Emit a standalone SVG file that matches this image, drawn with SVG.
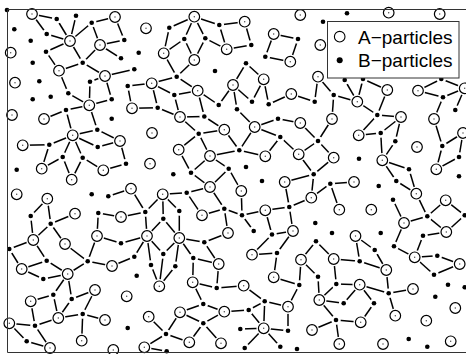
<svg xmlns="http://www.w3.org/2000/svg" xmlns:xlink="http://www.w3.org/1999/xlink" width="466" height="354" viewBox="0 0 466 354">
<style>
.bonds line{stroke:#000;stroke-width:1.5}
.frame{fill:none;stroke:#333;stroke-width:1}
.leg text{font-family:"Liberation Sans",Arial,sans-serif;font-size:19px;fill:#000}
</style>
<defs>
<g id="A"><circle r="7.2" fill="#fff"/><circle r="5.3" fill="#fff" stroke="#000" stroke-width="1.2"/><circle r="0.7" fill="#444"/></g>
<g id="B"><circle r="4.8" fill="#fff"/><circle r="2.3" fill="#000"/></g>
</defs>
<rect width="466" height="354" fill="#fff"/>
<g class="bonds">
<line x1="32" y1="14" x2="56.7" y2="19"/><line x1="32" y1="14" x2="46.7" y2="34"/><line x1="46.7" y1="34" x2="70" y2="41"/><line x1="70" y1="41" x2="56.7" y2="19"/><line x1="70" y1="41" x2="76" y2="15.7"/><line x1="70" y1="41" x2="91.7" y2="22.7"/><line x1="91.7" y1="22.7" x2="115" y2="17"/><line x1="91.7" y1="22.7" x2="100" y2="45"/><line x1="70" y1="41" x2="46" y2="51.7"/><line x1="70" y1="41" x2="82.7" y2="62.7"/><line x1="46" y1="51.7" x2="59" y2="70.7"/><line x1="59" y1="70.7" x2="82.7" y2="62.7"/><line x1="82.7" y1="62.7" x2="105" y2="76"/><line x1="100" y1="45" x2="82.7" y2="62.7"/><line x1="59" y1="70.7" x2="68.3" y2="93.3"/><line x1="90" y1="81.7" x2="105" y2="76"/><line x1="90" y1="81.7" x2="89.3" y2="105.3"/><line x1="105" y1="76" x2="111.7" y2="99.3"/><line x1="111.7" y1="99.3" x2="89.3" y2="105.3"/><line x1="68.3" y1="93.3" x2="89.3" y2="105.3"/><line x1="89.3" y1="105.3" x2="66" y2="110"/><line x1="66" y1="110" x2="44" y2="119"/>
<line x1="115" y1="17" x2="124.3" y2="40"/><line x1="124.3" y1="40" x2="100" y2="45"/><line x1="121" y1="58.3" x2="100" y2="45"/><line x1="134.3" y1="69.3" x2="105" y2="76"/>
<line x1="194.3" y1="16.7" x2="169.3" y2="27.7"/><line x1="194.3" y1="16.7" x2="219.3" y2="25"/><line x1="194.3" y1="16.7" x2="184.3" y2="39"/><line x1="194.3" y1="16.7" x2="205.3" y2="38.3"/><line x1="169.3" y1="27.7" x2="163.7" y2="53.3"/><line x1="184.3" y1="39" x2="163.7" y2="53.3"/><line x1="184.3" y1="39" x2="194.3" y2="60"/><line x1="205.3" y1="38.3" x2="194.3" y2="60"/><line x1="205.3" y1="38.3" x2="226.7" y2="49.3"/><line x1="219.3" y1="25" x2="226.7" y2="49.3"/><line x1="163.7" y1="53.3" x2="176.7" y2="76.7"/><line x1="194.3" y1="60" x2="176.7" y2="76.7"/><line x1="176.7" y1="76.7" x2="151.7" y2="83.3"/><line x1="176.7" y1="76.7" x2="197.7" y2="90.7"/><line x1="151.7" y1="83.3" x2="127.7" y2="86"/><line x1="151.7" y1="83.3" x2="174.3" y2="95"/><line x1="151.7" y1="83.3" x2="157.7" y2="107.7"/><line x1="127.7" y1="86" x2="132" y2="108.3"/><line x1="174.3" y1="95" x2="197.7" y2="90.7"/><line x1="174.3" y1="95" x2="180" y2="117"/><line x1="197.7" y1="90.7" x2="218.7" y2="105"/><line x1="197.7" y1="90.7" x2="204.3" y2="116.5"/><line x1="132" y1="108.3" x2="157.7" y2="107.7"/><line x1="157.7" y1="107.7" x2="180" y2="117"/><line x1="218.7" y1="105" x2="233" y2="85"/>
<line x1="219.3" y1="25" x2="244.7" y2="21.7"/><line x1="244.7" y1="21.7" x2="251.3" y2="45"/><line x1="251.3" y1="45" x2="226.7" y2="49.3"/><line x1="273.7" y1="34" x2="298" y2="39"/><line x1="298" y1="39" x2="290.3" y2="61.7"/><line x1="273.7" y1="34" x2="265.3" y2="56.7"/><line x1="265.3" y1="56.7" x2="290.3" y2="61.7"/><line x1="246" y1="63.3" x2="233" y2="85"/><line x1="246" y1="63.3" x2="263.7" y2="79.3"/><line x1="263.7" y1="79.3" x2="252" y2="101.7"/><line x1="263.7" y1="79.3" x2="268.7" y2="104.3"/><line x1="233" y1="85" x2="237" y2="109.3"/><line x1="233" y1="85" x2="252" y2="101.7"/><line x1="268.7" y1="104.3" x2="291.3" y2="94"/><line x1="291.3" y1="94" x2="314.7" y2="101.7"/><line x1="314.7" y1="101.7" x2="318" y2="76.7"/><line x1="318" y1="76.7" x2="333.7" y2="95"/><line x1="333.7" y1="95" x2="332" y2="119"/><line x1="333.7" y1="95" x2="357.3" y2="101.7"/><line x1="344.7" y1="80" x2="357.3" y2="101.7"/>
<line x1="363" y1="79" x2="387.3" y2="90"/><line x1="363" y1="79" x2="357.3" y2="101.7"/><line x1="387.3" y1="90" x2="377.3" y2="115"/><line x1="377.3" y1="115" x2="357.3" y2="101.7"/><line x1="377.3" y1="115" x2="401" y2="117"/><line x1="418" y1="90.7" x2="441.3" y2="79"/><line x1="441.3" y1="79" x2="464.7" y2="88.3"/><line x1="418" y1="90.7" x2="443" y2="97.3"/><line x1="443" y1="97.3" x2="464.7" y2="88.3"/><line x1="443" y1="97.3" x2="434" y2="119"/><line x1="464.7" y1="88.3" x2="455.3" y2="110"/>
<line x1="180" y1="117" x2="204.3" y2="116.5"/><line x1="204.3" y1="116.5" x2="224.3" y2="129.7"/><line x1="180" y1="117" x2="198.7" y2="133.7"/><line x1="198.7" y1="133.7" x2="224.3" y2="129.7"/><line x1="198.7" y1="133.7" x2="178.7" y2="149.7"/><line x1="198.7" y1="133.7" x2="210" y2="156"/><line x1="210" y1="156" x2="228.7" y2="168.7"/><line x1="210" y1="156" x2="239.3" y2="150.3"/><line x1="224.3" y1="129.7" x2="239.3" y2="150.3"/><line x1="178.7" y1="149.7" x2="191" y2="172.7"/><line x1="191" y1="172.7" x2="210" y2="156"/><line x1="191" y1="172.7" x2="210" y2="187"/><line x1="228.7" y1="168.7" x2="210" y2="187"/><line x1="228.7" y1="168.7" x2="241.3" y2="191"/>
<line x1="120" y1="141" x2="126" y2="163.7"/><line x1="126" y1="163.7" x2="103.3" y2="170.3"/><line x1="131" y1="188.7" x2="108.3" y2="196.3"/><line x1="131" y1="188.7" x2="145.3" y2="212"/><line x1="162.7" y1="194.3" x2="145.3" y2="212"/><line x1="162.7" y1="194.3" x2="186.7" y2="192.7"/><line x1="162.7" y1="194.3" x2="163.3" y2="218.7"/><line x1="162.7" y1="194.3" x2="179.3" y2="211"/><line x1="186.7" y1="192.7" x2="210" y2="187"/><line x1="186.7" y1="192.7" x2="202" y2="215.3"/><line x1="202" y1="215.3" x2="224.3" y2="208.7"/><line x1="210" y1="187" x2="224.3" y2="208.7"/><line x1="224.3" y1="208.7" x2="228" y2="233"/><line x1="145.3" y1="212" x2="121" y2="217"/><line x1="145.3" y1="212" x2="147" y2="236"/><line x1="163.3" y1="218.7" x2="147" y2="236"/><line x1="163.3" y1="218.7" x2="179.3" y2="238"/><line x1="179.3" y1="211" x2="179.3" y2="238"/><line x1="224.3" y1="208.7" x2="242" y2="215.3"/>
<line x1="72.7" y1="135.3" x2="97.3" y2="129.7"/><line x1="72.7" y1="135.3" x2="49.3" y2="144.7"/><line x1="72.7" y1="135.3" x2="62.7" y2="157"/><line x1="72.7" y1="135.3" x2="82.7" y2="157.7"/><line x1="72.7" y1="135.3" x2="97.7" y2="147"/><line x1="72.7" y1="135.3" x2="66" y2="110"/><line x1="22.7" y1="145.3" x2="49.3" y2="144.7"/><line x1="97.3" y1="129.7" x2="89.3" y2="105.3"/><line x1="97.3" y1="129.7" x2="120" y2="141"/><line x1="97.7" y1="147" x2="120" y2="141"/><line x1="49.3" y1="144.7" x2="41.7" y2="168.7"/><line x1="62.7" y1="157" x2="41.7" y2="168.7"/><line x1="62.7" y1="157" x2="71.7" y2="179.7"/><line x1="82.7" y1="157.7" x2="71.7" y2="179.7"/><line x1="82.7" y1="157.7" x2="103.3" y2="170.3"/>
<line x1="47.3" y1="198.7" x2="30.7" y2="216"/><line x1="47.3" y1="198.7" x2="50.7" y2="223.7"/><line x1="50.7" y1="223.7" x2="75" y2="213.7"/><line x1="30.7" y1="216" x2="33.3" y2="240"/><line x1="50.7" y1="223.7" x2="33.3" y2="240"/><line x1="50.7" y1="223.7" x2="65" y2="244"/><line x1="98.3" y1="213" x2="121" y2="217"/><line x1="98.3" y1="213" x2="97" y2="236"/><line x1="97" y1="236" x2="121" y2="243.3"/>
<line x1="254.7" y1="127" x2="278" y2="118.7"/><line x1="254.7" y1="127" x2="280.3" y2="137"/><line x1="278" y1="118.7" x2="300.3" y2="123"/><line x1="254.7" y1="127" x2="237" y2="109.3"/><line x1="254.7" y1="127" x2="239.3" y2="150.3"/><line x1="280.3" y1="137" x2="265.3" y2="156.3"/><line x1="280.3" y1="137" x2="298.7" y2="154.3"/><line x1="300.3" y1="123" x2="318" y2="141"/><line x1="332" y1="119" x2="318" y2="141"/><line x1="318" y1="141" x2="298.7" y2="154.3"/><line x1="318" y1="141" x2="333.7" y2="157.7"/><line x1="239.3" y1="150.3" x2="265.3" y2="156.3"/><line x1="298.7" y1="154.3" x2="313.7" y2="174.3"/><line x1="333.7" y1="157.7" x2="313.7" y2="174.3"/><line x1="313.7" y1="174.3" x2="284.7" y2="182"/><line x1="313.7" y1="174.3" x2="311.3" y2="197.7"/><line x1="330.3" y1="183.7" x2="311.3" y2="197.7"/><line x1="330.3" y1="183.7" x2="339.3" y2="209.7"/><line x1="330.3" y1="183.7" x2="354" y2="182"/><line x1="284.7" y1="182" x2="289.3" y2="207"/><line x1="289.3" y1="207" x2="265.3" y2="210.3"/><line x1="289.3" y1="207" x2="311.3" y2="197.7"/><line x1="289.3" y1="207" x2="293" y2="231"/><line x1="265.3" y1="210.3" x2="242" y2="215.3"/><line x1="241.3" y1="191" x2="242" y2="215.3"/><line x1="242" y1="215.3" x2="253.7" y2="231"/><line x1="272" y1="234.5" x2="293" y2="231"/><line x1="272" y1="234.5" x2="252" y2="254.7"/><line x1="265.3" y1="210.3" x2="272" y2="234.5"/><line x1="252" y1="254.7" x2="277" y2="253"/><line x1="277" y1="253" x2="293" y2="231"/><line x1="277" y1="253" x2="273.7" y2="277.3"/>
<line x1="401" y1="117" x2="380.7" y2="133"/><line x1="401" y1="117" x2="395.3" y2="141.3"/><line x1="358.7" y1="135.3" x2="380.7" y2="133"/><line x1="380.7" y1="133" x2="382.3" y2="160.3"/><line x1="395.3" y1="141.3" x2="382.3" y2="160.3"/><line x1="382.3" y1="160.3" x2="409" y2="169.3"/><line x1="409" y1="169.3" x2="416.3" y2="193.7"/><line x1="382.3" y1="160.3" x2="396.3" y2="181"/><line x1="396.3" y1="181" x2="416.3" y2="193.7"/><line x1="416.3" y1="193.7" x2="427.3" y2="216.3"/><line x1="393" y1="199.7" x2="404" y2="223"/><line x1="404" y1="223" x2="427.3" y2="216.3"/><line x1="427.3" y1="216.3" x2="445.7" y2="200.3"/><line x1="445.7" y1="200.3" x2="464.7" y2="215.3"/><line x1="427.3" y1="216.3" x2="446.3" y2="232"/><line x1="404" y1="223" x2="394" y2="246.3"/><line x1="434" y1="119" x2="442.3" y2="146"/><line x1="442.3" y1="146" x2="463" y2="133"/><line x1="442.3" y1="146" x2="436.3" y2="169.3"/><line x1="436.3" y1="169.3" x2="459" y2="157"/><line x1="459" y1="157" x2="463" y2="133"/><line x1="446.3" y1="232" x2="464.7" y2="215.3"/><line x1="358.7" y1="135.3" x2="377.3" y2="115"/>
<line x1="33.3" y1="240" x2="9.3" y2="249"/><line x1="33.3" y1="240" x2="46.7" y2="260.7"/><line x1="9.3" y1="249" x2="21.7" y2="269"/><line x1="21.7" y1="269" x2="46.7" y2="260.7"/><line x1="65" y1="244" x2="87.7" y2="261.3"/><line x1="46.7" y1="260.7" x2="67.7" y2="274"/><line x1="21.7" y1="269" x2="43.3" y2="279"/><line x1="43.3" y1="279" x2="67.7" y2="274"/><line x1="87.7" y1="261.3" x2="67.7" y2="274"/><line x1="87.7" y1="261.3" x2="112" y2="266"/><line x1="87.7" y1="261.3" x2="97" y2="236"/><line x1="67.7" y1="274" x2="53.3" y2="294.7"/><line x1="67.7" y1="274" x2="71.7" y2="299"/><line x1="30.7" y1="301.3" x2="53.3" y2="294.7"/><line x1="53.3" y1="294.7" x2="58.3" y2="318"/><line x1="71.7" y1="299" x2="95" y2="290"/><line x1="71.7" y1="299" x2="58.3" y2="318"/><line x1="95" y1="290" x2="82.7" y2="314"/><line x1="58.3" y1="318" x2="82.7" y2="314"/><line x1="82.7" y1="314" x2="105" y2="320"/><line x1="82.7" y1="314" x2="81.7" y2="340.7"/><line x1="30.7" y1="301.3" x2="35" y2="325.7"/><line x1="9.3" y1="323.3" x2="35" y2="325.7"/><line x1="35" y1="325.7" x2="58.3" y2="318"/><line x1="9.3" y1="323.3" x2="26.7" y2="341.3"/><line x1="35" y1="325.7" x2="50" y2="348"/><line x1="26.7" y1="341.3" x2="50" y2="348"/>
<line x1="121" y1="243.3" x2="147" y2="236"/><line x1="147" y1="236" x2="134.3" y2="256.7"/><line x1="147" y1="236" x2="163.3" y2="254"/><line x1="147" y1="236" x2="151" y2="265"/><line x1="179.3" y1="238" x2="163.3" y2="254"/><line x1="179.3" y1="238" x2="175.3" y2="266.3"/><line x1="179.3" y1="238" x2="193.3" y2="258"/><line x1="179.3" y1="238" x2="204.3" y2="242.3"/><line x1="204.3" y1="242.3" x2="228" y2="233"/><line x1="204.3" y1="242.3" x2="218.7" y2="264"/><line x1="134.3" y1="256.7" x2="112" y2="266"/><line x1="193.3" y1="258" x2="218.7" y2="264"/><line x1="193.3" y1="258" x2="192.7" y2="282.3"/><line x1="163.3" y1="254" x2="159.3" y2="286.3"/><line x1="151" y1="265" x2="159.3" y2="286.3"/><line x1="175.3" y1="266.3" x2="159.3" y2="286.3"/><line x1="192.7" y1="282.3" x2="216.7" y2="288"/><line x1="192.7" y1="282.3" x2="203.3" y2="304"/><line x1="218.7" y1="264" x2="216.7" y2="288"/><line x1="203.3" y1="304" x2="180" y2="312.3"/><line x1="203.3" y1="304" x2="224.3" y2="311.7"/><line x1="180" y1="312.3" x2="203.3" y2="323.3"/><line x1="224.3" y1="311.7" x2="203.3" y2="323.3"/><line x1="148.7" y1="316.7" x2="166" y2="334"/><line x1="180" y1="312.3" x2="166" y2="334"/><line x1="166" y1="334" x2="144.3" y2="347.3"/><line x1="166" y1="334" x2="189.3" y2="342.3"/><line x1="203.3" y1="323.3" x2="221" y2="343.3"/><line x1="203.3" y1="323.3" x2="189.3" y2="342.3"/><line x1="144.3" y1="347.3" x2="166.7" y2="351.3"/>
<line x1="216.7" y1="288" x2="243.7" y2="285.7"/><line x1="243.7" y1="285.7" x2="264.7" y2="301.3"/><line x1="264.7" y1="301.3" x2="288" y2="306.7"/><line x1="264.7" y1="301.3" x2="248.7" y2="310"/><line x1="264.7" y1="301.3" x2="263.7" y2="328.3"/><line x1="288" y1="306.7" x2="288" y2="330.7"/><line x1="263.7" y1="328.3" x2="288" y2="330.7"/><line x1="263.7" y1="328.3" x2="240.3" y2="329"/><line x1="263.7" y1="328.3" x2="244.7" y2="348"/><line x1="263.7" y1="328.3" x2="280.3" y2="346.7"/><line x1="263.7" y1="328.3" x2="248.7" y2="310"/><line x1="248.7" y1="310" x2="224.3" y2="311.7"/><line x1="273.7" y1="277.3" x2="299.3" y2="285"/><line x1="299.3" y1="285" x2="288" y2="306.7"/><line x1="318" y1="276.7" x2="319.3" y2="300"/><line x1="301" y1="259.7" x2="316" y2="241.3"/><line x1="316" y1="241.3" x2="333.7" y2="259"/><line x1="301" y1="259.7" x2="318" y2="276.7"/><line x1="333.7" y1="259" x2="336.3" y2="284"/><line x1="301" y1="259.7" x2="299.3" y2="285"/><line x1="336.3" y1="284" x2="319.3" y2="300"/><line x1="319.3" y1="300" x2="343.7" y2="303.3"/><line x1="319.3" y1="300" x2="336" y2="320"/><line x1="336" y1="320" x2="312" y2="330"/><line x1="336" y1="320" x2="339.3" y2="344"/><line x1="336" y1="320" x2="360.7" y2="322.3"/><line x1="336.3" y1="284" x2="359.7" y2="284.7"/><line x1="343.7" y1="303.3" x2="359.7" y2="284.7"/><line x1="359.7" y1="261.3" x2="333.7" y2="259"/>
<line x1="355.5" y1="236" x2="374.7" y2="250"/><line x1="355.5" y1="236" x2="359.7" y2="261.3"/><line x1="374.7" y1="250" x2="386.3" y2="270"/><line x1="359.7" y1="261.3" x2="386.3" y2="270"/><line x1="386.3" y1="270" x2="388.7" y2="293.3"/><line x1="359.7" y1="284.7" x2="388.7" y2="293.3"/><line x1="388.7" y1="293.3" x2="413" y2="289"/><line x1="388.7" y1="293.3" x2="395.3" y2="315.7"/><line x1="359.7" y1="284.7" x2="374" y2="303.3"/><line x1="374" y1="303.3" x2="360.7" y2="322.3"/><line x1="394" y1="246.3" x2="414.7" y2="257.3"/><line x1="414.7" y1="257.3" x2="423" y2="235.7"/><line x1="423" y1="235.7" x2="446.3" y2="232"/><line x1="414.7" y1="257.3" x2="437.3" y2="255.7"/><line x1="414.7" y1="257.3" x2="434" y2="274.7"/><line x1="434" y1="274.7" x2="459.7" y2="264"/><line x1="437.3" y1="255.7" x2="459.7" y2="264"/>
</g>
<g id="nodesB">
<g id="b1"><use href="#B" x="7" y="10"/></g><g id="b2"><use href="#B" x="56.7" y="19"/></g><g id="b3"><use href="#B" x="76" y="15.7"/></g><g id="b4"><use href="#B" x="91.7" y="22.7"/></g><g id="b5"><use href="#B" x="14.3" y="29.3"/></g><g id="b6"><use href="#B" x="46.7" y="34"/></g><g id="b7"><use href="#B" x="30.7" y="40.7"/></g><g id="b8"><use href="#B" x="46" y="51.7"/></g><g id="b9"><use href="#B" x="32.7" y="62.7"/></g><g id="b10"><use href="#B" x="82.7" y="62.7"/></g><g id="b11"><use href="#B" x="90" y="81.7"/></g><g id="b12"><use href="#B" x="39.3" y="81.3"/></g><g id="b13"><use href="#B" x="68.3" y="93.3"/></g><g id="b14"><use href="#B" x="50.7" y="96.7"/></g><g id="b15"><use href="#B" x="32.7" y="99.3"/></g><g id="b16"><use href="#B" x="111.7" y="99.3"/></g><g id="b17"><use href="#B" x="66" y="110"/></g><g id="b18"><use href="#B" x="169.3" y="27.7"/></g><g id="b19"><use href="#B" x="219.3" y="25"/></g><g id="b20"><use href="#B" x="184.3" y="39"/></g><g id="b21"><use href="#B" x="205.3" y="38.3"/></g><g id="b22"><use href="#B" x="124.3" y="40"/></g><g id="b23"><use href="#B" x="138.7" y="52.7"/></g><g id="b24"><use href="#B" x="121" y="58.3"/></g><g id="b25"><use href="#B" x="215" y="71"/></g><g id="b26"><use href="#B" x="134.3" y="69.3"/></g><g id="b27"><use href="#B" x="176.7" y="76.7"/></g><g id="b28"><use href="#B" x="127.7" y="86"/></g><g id="b29"><use href="#B" x="174.3" y="95"/></g><g id="b30"><use href="#B" x="218.7" y="105"/></g><g id="b31"><use href="#B" x="157.7" y="107.7"/></g><g id="b32"><use href="#B" x="204.3" y="116.5"/></g><g id="b33"><use href="#B" x="347" y="13.3"/></g><g id="b34"><use href="#B" x="323" y="21.7"/></g><g id="b35"><use href="#B" x="298" y="39"/></g><g id="b36"><use href="#B" x="251.3" y="45"/></g><g id="b37"><use href="#B" x="265.3" y="56.7"/></g><g id="b38"><use href="#B" x="246" y="63.3"/></g><g id="b39"><use href="#B" x="344.7" y="80"/></g><g id="b40"><use href="#B" x="252" y="101.7"/></g><g id="b41"><use href="#B" x="268.7" y="104.3"/></g><g id="b42"><use href="#B" x="314.7" y="101.7"/></g><g id="b43"><use href="#B" x="333.7" y="95"/></g><g id="b44"><use href="#B" x="237" y="109.3"/></g><g id="b45"><use href="#B" x="363" y="79"/></g><g id="b46"><use href="#B" x="441.3" y="79"/></g><g id="b47"><use href="#B" x="377.3" y="115"/></g><g id="b48"><use href="#B" x="443" y="97.3"/></g><g id="b49"><use href="#B" x="455.3" y="110"/></g><g id="b50"><use href="#B" x="111.7" y="118.7"/></g><g id="b51"><use href="#B" x="97.3" y="129.7"/></g><g id="b52"><use href="#B" x="49.3" y="144.7"/></g><g id="b53"><use href="#B" x="97.7" y="147"/></g><g id="b54"><use href="#B" x="62.7" y="157"/></g><g id="b55"><use href="#B" x="82.7" y="157.7"/></g><g id="b56"><use href="#B" x="16.7" y="169.7"/></g><g id="b57"><use href="#B" x="91.7" y="194.3"/></g><g id="b58"><use href="#B" x="108.3" y="196.3"/></g><g id="b59"><use href="#B" x="30.7" y="216"/></g><g id="b60"><use href="#B" x="50.7" y="223.7"/></g><g id="b61"><use href="#B" x="98.3" y="213"/></g><g id="b62"><use href="#B" x="198.7" y="133.7"/></g><g id="b63"><use href="#B" x="126" y="163.7"/></g><g id="b64"><use href="#B" x="173.3" y="174.3"/></g><g id="b65"><use href="#B" x="191" y="172.7"/></g><g id="b66"><use href="#B" x="228.7" y="168.7"/></g><g id="b67"><use href="#B" x="186.7" y="192.7"/></g><g id="b68"><use href="#B" x="145.3" y="212"/></g><g id="b69"><use href="#B" x="163.3" y="218.7"/></g><g id="b70"><use href="#B" x="179.3" y="211"/></g><g id="b71"><use href="#B" x="224.3" y="208.7"/></g><g id="b72"><use href="#B" x="278" y="118.7"/></g><g id="b73"><use href="#B" x="280.3" y="137"/></g><g id="b74"><use href="#B" x="318" y="141"/></g><g id="b75"><use href="#B" x="239.3" y="150.3"/></g><g id="b76"><use href="#B" x="246" y="167"/></g><g id="b77"><use href="#B" x="262" y="181"/></g><g id="b78"><use href="#B" x="313.7" y="174.3"/></g><g id="b79"><use href="#B" x="330.3" y="183.7"/></g><g id="b80"><use href="#B" x="289.3" y="207"/></g><g id="b81"><use href="#B" x="242" y="215.3"/></g><g id="b82"><use href="#B" x="315.3" y="223"/></g><g id="b83"><use href="#B" x="253.7" y="231"/></g><g id="b84"><use href="#B" x="332" y="233"/></g><g id="b85"><use href="#B" x="272" y="234.5"/></g><g id="b86"><use href="#B" x="380.7" y="133"/></g><g id="b87"><use href="#B" x="395.3" y="141.3"/></g><g id="b88"><use href="#B" x="442.3" y="146"/></g><g id="b89"><use href="#B" x="359" y="158.7"/></g><g id="b90"><use href="#B" x="409" y="169.3"/></g><g id="b91"><use href="#B" x="459" y="157"/></g><g id="b92"><use href="#B" x="459" y="176.3"/></g><g id="b93"><use href="#B" x="378.7" y="186"/></g><g id="b94"><use href="#B" x="396.3" y="181"/></g><g id="b95"><use href="#B" x="393" y="199.7"/></g><g id="b96"><use href="#B" x="427.3" y="216.3"/></g><g id="b97"><use href="#B" x="464.7" y="215.3"/></g><g id="b98"><use href="#B" x="380.7" y="233"/></g><g id="b99"><use href="#B" x="9.3" y="249"/></g><g id="b100"><use href="#B" x="46.7" y="260.7"/></g><g id="b101"><use href="#B" x="87.7" y="261.3"/></g><g id="b102"><use href="#B" x="43.3" y="279"/></g><g id="b103"><use href="#B" x="53.3" y="294.7"/></g><g id="b104"><use href="#B" x="71.7" y="299"/></g><g id="b105"><use href="#B" x="82.7" y="314"/></g><g id="b106"><use href="#B" x="35" y="325.7"/></g><g id="b107"><use href="#B" x="26.7" y="341.3"/></g><g id="b108"><use href="#B" x="121" y="243.3"/></g><g id="b109"><use href="#B" x="134.3" y="256.7"/></g><g id="b110"><use href="#B" x="163.3" y="254"/></g><g id="b111"><use href="#B" x="193.3" y="258"/></g><g id="b112"><use href="#B" x="204.3" y="242.3"/></g><g id="b113"><use href="#B" x="151" y="265"/></g><g id="b114"><use href="#B" x="175.3" y="266.3"/></g><g id="b115"><use href="#B" x="136.7" y="275.7"/></g><g id="b116"><use href="#B" x="216.7" y="288"/></g><g id="b117"><use href="#B" x="203.3" y="304"/></g><g id="b118"><use href="#B" x="203.3" y="323.3"/></g><g id="b119"><use href="#B" x="127.7" y="328"/></g><g id="b120"><use href="#B" x="166" y="334"/></g><g id="b121"><use href="#B" x="166.7" y="351.3"/></g><g id="b123"><use href="#B" x="316" y="241.3"/></g><g id="b124"><use href="#B" x="277" y="253"/></g><g id="b125"><use href="#B" x="318" y="276.7"/></g><g id="b126"><use href="#B" x="299.3" y="285"/></g><g id="b127"><use href="#B" x="336.3" y="284"/></g><g id="b128"><use href="#B" x="264.7" y="301.3"/></g><g id="b129"><use href="#B" x="343.7" y="303.3"/></g><g id="b130"><use href="#B" x="248.7" y="310"/></g><g id="b131"><use href="#B" x="336" y="320"/></g><g id="b132"><use href="#B" x="240.3" y="329"/></g><g id="b133"><use href="#B" x="288" y="330.7"/></g><g id="b134"><use href="#B" x="244.7" y="348"/></g><g id="b135"><use href="#B" x="280.3" y="346.7"/></g><g id="b136"><use href="#B" x="297" y="349"/></g><g id="b137"><use href="#B" x="423" y="235.7"/></g><g id="b138"><use href="#B" x="374.7" y="250"/></g><g id="b139"><use href="#B" x="394" y="246.3"/></g><g id="b140"><use href="#B" x="359.7" y="261.3"/></g><g id="b141"><use href="#B" x="437.3" y="255.7"/></g><g id="b142"><use href="#B" x="434" y="274.7"/></g><g id="b143"><use href="#B" x="388.7" y="293.3"/></g><g id="b144"><use href="#B" x="448" y="284.7"/></g><g id="b145"><use href="#B" x="464.7" y="287.3"/></g><g id="b146"><use href="#B" x="374" y="303.3"/></g><g id="b147"><use href="#B" x="435.3" y="296.7"/></g><g id="b148"><use href="#B" x="408.7" y="339"/></g><g id="b149"><use href="#B" x="427.3" y="346.7"/></g>
</g>
<g id="nodesA">
<g id="a1"><use href="#A" x="32" y="14"/></g><g id="a2"><use href="#A" x="115" y="17"/></g><g id="a3"><use href="#A" x="70" y="41"/></g><g id="a4"><use href="#A" x="100" y="45"/></g><g id="a5"><use href="#A" x="10.7" y="52.7"/></g><g id="a6"><use href="#A" x="59" y="70.7"/></g><g id="a7"><use href="#A" x="105" y="76"/></g><g id="a8"><use href="#A" x="15" y="82.7"/></g><g id="a9"><use href="#A" x="89.3" y="105.3"/></g><g id="a10"><use href="#A" x="12" y="115"/></g><g id="a11"><use href="#A" x="44" y="119"/></g><g id="a12"><use href="#A" x="146" y="28.3"/></g><g id="a13"><use href="#A" x="194.3" y="16.7"/></g><g id="a14"><use href="#A" x="163.7" y="53.3"/></g><g id="a15"><use href="#A" x="194.3" y="60"/></g><g id="a16"><use href="#A" x="226.7" y="49.3"/></g><g id="a17"><use href="#A" x="151.7" y="83.3"/></g><g id="a18"><use href="#A" x="197.7" y="90.7"/></g><g id="a19"><use href="#A" x="233" y="85"/></g><g id="a20"><use href="#A" x="132" y="108.3"/></g><g id="a21"><use href="#A" x="180" y="117"/></g><g id="a22"><use href="#A" x="300.3" y="15"/></g><g id="a23"><use href="#A" x="244.7" y="21.7"/></g><g id="a24"><use href="#A" x="273.7" y="34"/></g><g id="a25"><use href="#A" x="320.3" y="45"/></g><g id="a26"><use href="#A" x="290.3" y="61.7"/></g><g id="a27"><use href="#A" x="263.7" y="79.3"/></g><g id="a28"><use href="#A" x="318" y="76.7"/></g><g id="a29"><use href="#A" x="291.3" y="94"/></g><g id="a30"><use href="#A" x="332" y="119"/></g><g id="a31"><use href="#A" x="388.7" y="12.7"/></g><g id="a32"><use href="#A" x="439.7" y="14"/></g><g id="a33"><use href="#A" x="387.3" y="90"/></g><g id="a34"><use href="#A" x="418" y="90.7"/></g><g id="a35"><use href="#A" x="464.7" y="88.3"/></g><g id="a36"><use href="#A" x="357.3" y="101.7"/></g><g id="a37"><use href="#A" x="401" y="117"/></g><g id="a38"><use href="#A" x="434" y="119"/></g><g id="a39"><use href="#A" x="72.7" y="135.3"/></g><g id="a40"><use href="#A" x="22.7" y="145.3"/></g><g id="a41"><use href="#A" x="120" y="141"/></g><g id="a42"><use href="#A" x="41.7" y="168.7"/></g><g id="a43"><use href="#A" x="103.3" y="170.3"/></g><g id="a44"><use href="#A" x="71.7" y="179.7"/></g><g id="a45"><use href="#A" x="16.7" y="194.3"/></g><g id="a46"><use href="#A" x="47.3" y="198.7"/></g><g id="a47"><use href="#A" x="75" y="213.7"/></g><g id="a48"><use href="#A" x="97" y="236"/></g><g id="a49"><use href="#A" x="224.3" y="129.7"/></g><g id="a50"><use href="#A" x="152" y="133"/></g><g id="a51"><use href="#A" x="178.7" y="149.7"/></g><g id="a52"><use href="#A" x="210" y="156"/></g><g id="a53"><use href="#A" x="150" y="163.7"/></g><g id="a54"><use href="#A" x="131" y="188.7"/></g><g id="a55"><use href="#A" x="162.7" y="194.3"/></g><g id="a56"><use href="#A" x="210" y="187"/></g><g id="a57"><use href="#A" x="202" y="215.3"/></g><g id="a58"><use href="#A" x="121" y="217"/></g><g id="a59"><use href="#A" x="147" y="236"/></g><g id="a60"><use href="#A" x="228" y="233"/></g><g id="a61"><use href="#A" x="254.7" y="127"/></g><g id="a62"><use href="#A" x="300.3" y="123"/></g><g id="a63"><use href="#A" x="265.3" y="156.3"/></g><g id="a64"><use href="#A" x="298.7" y="154.3"/></g><g id="a65"><use href="#A" x="333.7" y="157.7"/></g><g id="a66"><use href="#A" x="284.7" y="182"/></g><g id="a67"><use href="#A" x="241.3" y="191"/></g><g id="a68"><use href="#A" x="311.3" y="197.7"/></g><g id="a69"><use href="#A" x="339.3" y="209.7"/></g><g id="a70"><use href="#A" x="265.3" y="210.3"/></g><g id="a71"><use href="#A" x="293" y="231"/></g><g id="a72"><use href="#A" x="463" y="133"/></g><g id="a73"><use href="#A" x="358.7" y="135.3"/></g><g id="a74"><use href="#A" x="417" y="147"/></g><g id="a75"><use href="#A" x="382.3" y="160.3"/></g><g id="a76"><use href="#A" x="436.3" y="169.3"/></g><g id="a77"><use href="#A" x="354" y="182"/></g><g id="a78"><use href="#A" x="416.3" y="193.7"/></g><g id="a79"><use href="#A" x="445.7" y="200.3"/></g><g id="a80"><use href="#A" x="371.3" y="209.7"/></g><g id="a81"><use href="#A" x="404" y="223"/></g><g id="a82"><use href="#A" x="355.5" y="236"/></g><g id="a83"><use href="#A" x="446.3" y="232"/></g><g id="a84"><use href="#A" x="33.3" y="240"/></g><g id="a85"><use href="#A" x="65" y="244"/></g><g id="a86"><use href="#A" x="21.7" y="269"/></g><g id="a87"><use href="#A" x="112" y="266"/></g><g id="a88"><use href="#A" x="67.7" y="274"/></g><g id="a89"><use href="#A" x="95" y="290"/></g><g id="a90"><use href="#A" x="30.7" y="301.3"/></g><g id="a91"><use href="#A" x="58.3" y="318"/></g><g id="a92"><use href="#A" x="105" y="320"/></g><g id="a93"><use href="#A" x="9.3" y="323.3"/></g><g id="a94"><use href="#A" x="50" y="348"/></g><g id="a95"><use href="#A" x="81.7" y="340.7"/></g><g id="a96"><use href="#A" x="113.3" y="350"/></g><g id="a97"><use href="#A" x="179.3" y="238"/></g><g id="a98"><use href="#A" x="218.7" y="264"/></g><g id="a99"><use href="#A" x="159.3" y="286.3"/></g><g id="a100"><use href="#A" x="192.7" y="282.3"/></g><g id="a101"><use href="#A" x="126.7" y="296.3"/></g><g id="a102"><use href="#A" x="180" y="312.3"/></g><g id="a103"><use href="#A" x="224.3" y="311.7"/></g><g id="a104"><use href="#A" x="148.7" y="316.7"/></g><g id="a105"><use href="#A" x="189.3" y="342.3"/></g><g id="a106"><use href="#A" x="144.3" y="347.3"/></g><g id="a107"><use href="#A" x="221" y="343.3"/></g><g id="a108"><use href="#A" x="252" y="254.7"/></g><g id="a109"><use href="#A" x="301" y="259.7"/></g><g id="a110"><use href="#A" x="333.7" y="259"/></g><g id="a111"><use href="#A" x="273.7" y="277.3"/></g><g id="a112"><use href="#A" x="243.7" y="285.7"/></g><g id="a113"><use href="#A" x="319.3" y="300"/></g><g id="a114"><use href="#A" x="288" y="306.7"/></g><g id="a115"><use href="#A" x="263.7" y="328.3"/></g><g id="a116"><use href="#A" x="312" y="330"/></g><g id="a117"><use href="#A" x="339.3" y="344"/></g><g id="a118"><use href="#A" x="414.7" y="257.3"/></g><g id="a119"><use href="#A" x="459.7" y="264"/></g><g id="a120"><use href="#A" x="386.3" y="270"/></g><g id="a121"><use href="#A" x="359.7" y="284.7"/></g><g id="a122"><use href="#A" x="413" y="289"/></g><g id="a123"><use href="#A" x="395.3" y="315.7"/></g><g id="a124"><use href="#A" x="455.3" y="308"/></g><g id="a125"><use href="#A" x="360.7" y="322.3"/></g><g id="a126"><use href="#A" x="426.3" y="320.7"/></g><g id="a127"><use href="#A" x="383" y="344"/></g><g id="a128"><use href="#A" x="450.7" y="341.3"/></g>
</g>
<path class="frame" d="M467 9.5H7.5V352.5H467"/>
<g id="legend" class="leg">
<rect x="327.5" y="21.5" width="131.5" height="56.5" fill="#fff" stroke="#333" stroke-width="1"/>
<circle cx="339.7" cy="36.7" r="5.3" fill="#fff" stroke="#000" stroke-width="1.1"/>
<circle cx="339.7" cy="60.3" r="3" fill="#000"/>
<text x="358" y="43.5">A−particles</text>
<text x="358" y="66.5">B−particles</text>
</g>
</svg>
